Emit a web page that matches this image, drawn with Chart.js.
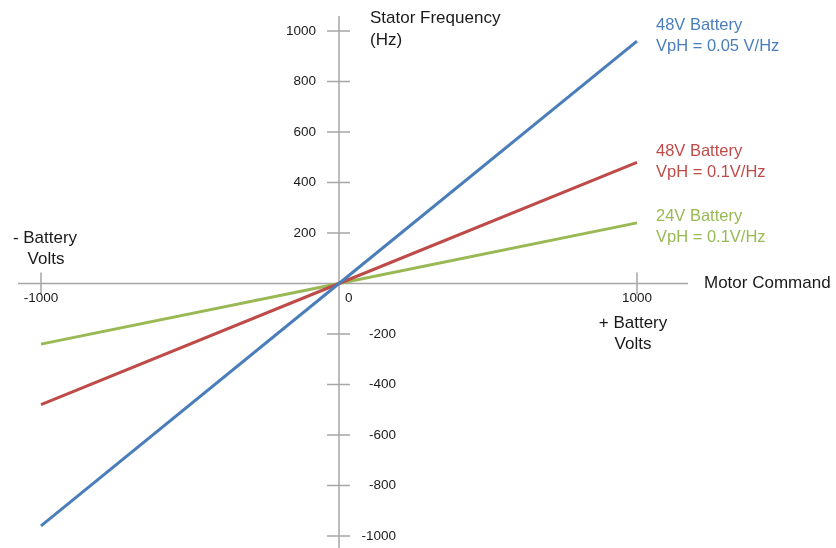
<!DOCTYPE html>
<html>
<head>
<meta charset="utf-8">
<script src="https://cdn.jsdelivr.net/npm/chart.js@4"></script>
<style>
  body { margin: 0; background: #fff; }
  canvas { display: block; }
</style>
</head>
<body>
<canvas id="chart" width="836" height="548"></canvas>
<script>
// Motor command (x) vs stator frequency (y)
const commands = [-1000, 0, 1000];
const blue48 = [-960, 0, 960];
const red48 = [-480, 0, 480];
const green24 = [-240, 0, 240];
const yTicks = [1000, 800, 600, 400, 200, -200, -400, -600, -800, -1000];
const xTicks = [-1000, 1000];

const BLUE = '#4a7ebb';
const RED = '#be4b48';
const GREEN = '#98b954';
const AXIS = '#a6a6a6';
const FONT = '"Liberation Sans", Arial, sans-serif';

function toPoints(ys) {
    return commands.map((x, i) => ({ x: x, y: ys[i] }));
}

// draws the cross shaped axes, ticks and all the labels
const axesPlugin = {
    id: 'crossAxes',
    beforeDatasetsDraw(chart) {
        const ctx = chart.ctx;
        const xs = chart.scales.x;
        const ys = chart.scales.y;
        const x0 = xs.getPixelForValue(0);
        const y0 = ys.getPixelForValue(0);

        ctx.save();
        ctx.strokeStyle = AXIS;
        ctx.lineWidth = 1.5;
        ctx.beginPath();
        ctx.moveTo(18, y0);
        ctx.lineTo(688, y0);
        ctx.moveTo(x0, 16);
        ctx.lineTo(x0, 548);
        yTicks.forEach(v => {
            const py = ys.getPixelForValue(v);
            ctx.moveTo(x0 - 12, py);
            ctx.lineTo(x0 + 11, py);
        });
        xTicks.forEach(v => {
            const px = xs.getPixelForValue(v);
            ctx.moveTo(px, y0 - 11);
            ctx.lineTo(px, y0 + 11);
        });
        ctx.stroke();
        ctx.restore();
    },
    afterDatasetsDraw(chart) {
        const ctx = chart.ctx;
        const xs = chart.scales.x;
        const ys = chart.scales.y;
        const x0 = xs.getPixelForValue(0);
        const y0 = ys.getPixelForValue(0);

        ctx.save();
        ctx.fillStyle = '#1a1a1a';
        ctx.textBaseline = 'middle';
        ctx.font = '13.5px ' + FONT;
        yTicks.forEach(v => {
            const py = ys.getPixelForValue(v);
            ctx.textAlign = 'right';
            if (v > 0) {
                ctx.fillText(String(v), x0 - 23, py);
            } else {
                ctx.fillText(String(v), x0 + 57, py);
            }
        });
        ctx.textAlign = 'center';
        xTicks.forEach(v => {
            ctx.fillText(String(v), xs.getPixelForValue(v), y0 + 15);
        });
        ctx.textAlign = 'left';
        ctx.fillText('0', x0 + 6, y0 + 15);

        ctx.font = '17px ' + FONT;
        ctx.textAlign = 'left';
        ctx.fillText('Stator Frequency', 370, 18);
        ctx.fillText('(Hz)', 370, 40);
        ctx.fillText('Motor Command', 704, y0);
        ctx.textAlign = 'center';
        ctx.fillText('- Battery', 45, 238);
        ctx.fillText('Volts', 46, 259);
        ctx.fillText('+ Battery', 633, 323);
        ctx.fillText('Volts', 633, 344);

        ctx.font = '16.5px ' + FONT;
        ctx.textAlign = 'left';
        const notes = [
            [BLUE, '48V Battery', 'VpH = 0.05 V/Hz', 25],
            [RED, '48V Battery', 'VpH = 0.1V/Hz', 151],
            [GREEN, '24V Battery', 'VpH = 0.1V/Hz', 216]
        ];
        notes.forEach(n => {
            ctx.fillStyle = n[0];
            ctx.fillText(n[1], 656, n[3]);
            ctx.fillText(n[2], 656, n[3] + 21);
        });
        ctx.restore();
    }
};

const ctx = document.getElementById('chart').getContext('2d');
new Chart(ctx, {
    type: 'scatter',
    data: {
        datasets: [
            { label: '48V 0.05', data: toPoints(blue48), borderColor: BLUE },
            { label: '48V 0.1', data: toPoints(red48), borderColor: RED },
            { label: '24V 0.1', data: toPoints(green24), borderColor: GREEN }
        ].map(d => Object.assign(d, {
            showLine: true,
            borderWidth: 3,
            pointRadius: 0,
            fill: false,
            clip: false
        }))
    },
    options: {
        responsive: false,
        animation: false,
        layout: { padding: { left: 41, right: 199, top: 31, bottom: 12 } },
        plugins: { legend: { display: false }, tooltip: { enabled: false } },
        scales: {
            x: { type: 'linear', min: -1000, max: 1000, display: false },
            y: { type: 'linear', min: -1000, max: 1000, display: false }
        }
    },
    plugins: [axesPlugin]
});
</script>
</body>
</html>
